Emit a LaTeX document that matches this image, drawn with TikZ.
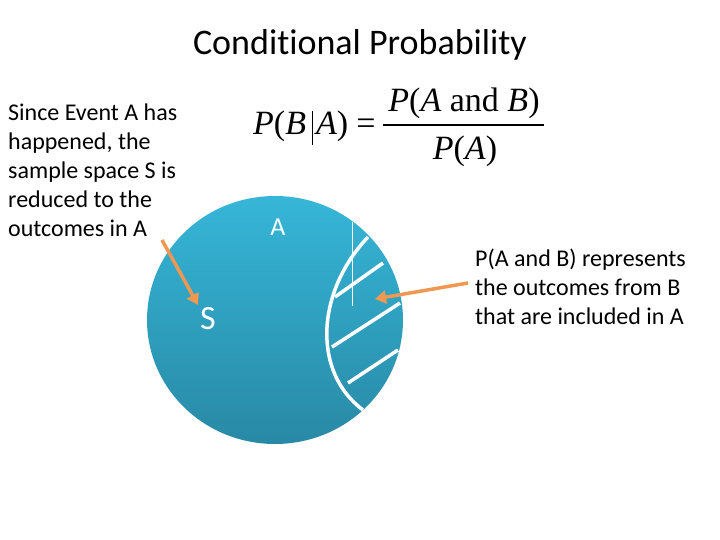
\documentclass[tikz,border=0pt]{standalone}
\usepackage{fontspec}
\setmainfont{Carlito}[Ligatures=NoCommon]
\newfontfamily\timesfont{Liberation Serif}
\usepackage{xcolor}
\usetikzlibrary{positioning, arrows.meta}

\definecolor{spacetop}{RGB}{54,182,216}
\definecolor{spacebot}{RGB}{40,137,165}
\definecolor{arrorange}{RGB}{240,152,82}

\begin{document}
\begin{tikzpicture}[
    x=1pt, y=-1pt,
    every node/.style={inner sep=0pt},
    body/.style={font=\fontsize{24}{28.8}\selectfont, align=left, anchor=north west},
    formula/.style={font=\timesfont\fontsize{34}{40}\selectfont},
    inlabel/.style={text=white, font=\fontsize{#1}{#1}\selectfont},
    inlabel/.default=26,
    hatch/.style={white, line width=3.5pt},
    arr/.style={-{Triangle[length=11pt, width=13pt]}, line width=3.5pt, arrorange},
]
    \useasboundingbox (0,0) rectangle (720,540);

    % sample space S and the event A
    \shade[top color=spacetop, bottom color=spacebot] (275,320) ellipse [x radius=128, y radius=124];
    \draw[hatch] (368,237) .. controls (316,292) and (312,372) .. (363,410);
    \draw[hatch] (335,297) -- (383,263);
    \draw[hatch] (332,347) -- (400,303);
    \draw[hatch] (348,383) -- (398,350);
    \draw[white, line width=1pt] (352,222) -- (352,306);
    \node[inlabel] (lblA) at (278,227) {A};
    \node[inlabel=34] (lblS) at (208,319) {S};

    % title and formula
    \node[font=\fontsize{36}{36}\selectfont] (title) at (360,45) {Conditional Probability};
    \node[formula, anchor=base west] (lhs) at (253,135)
        {\textit{P}(\textit{B}\hspace{6pt}\rule[-10pt]{1pt}{34pt}\hspace{3pt}\textit{A})\hspace{8pt}=};
    \node[formula, anchor=base] (num) at (464,112) {\textit{P}(\textit{A} and \textit{B})};
    \node[formula, anchor=base] (den) at (465,160) {\textit{P}(\textit{A})};
    \draw[line width=1.2pt] (383,125) -- (544,125);

    % explanations
    \node[body] (since) at (8,104) {Since Event A has\\happened, the\\sample space S is\\reduced to the\\outcomes in A};
    \node[body] (repr) at (475,249) {P(A and B) represents\\the outcomes from B\\that are included in A};

    \coordinate (sTail) at (162,240);
    \coordinate (sTip) at (198,305);
    \coordinate (aTail) at (468,283);
    \coordinate (aTip) at (375,299);
    \draw[arr] (sTail) -- (sTip);
    \draw[arr] (aTail) -- (aTip);
\end{tikzpicture}
\end{document}
